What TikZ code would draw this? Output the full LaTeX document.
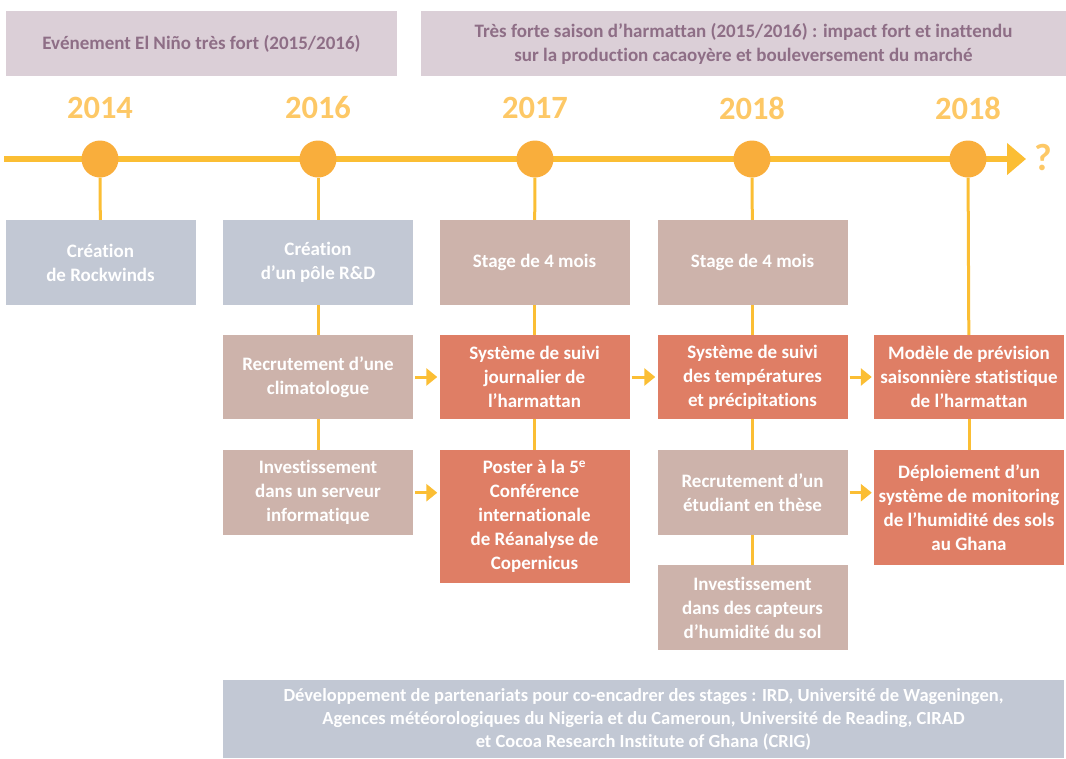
\documentclass[tikz,border=0pt]{standalone}
\usetikzlibrary{arrows.meta, positioning}
\usepackage{fontspec}
\setmainfont{Carlito}[Ligatures=CommonOff]
\usepackage{xcolor}

\definecolor{bandfill}{HTML}{DBCFD7}
\definecolor{bandtext}{HTML}{8E6E86}
\definecolor{yeartext}{HTML}{FDC866}
\definecolor{dotfill}{HTML}{F9AE3C}
\definecolor{linecol}{HTML}{FBBE34}
\definecolor{greyblue}{HTML}{C2C8D4}
\definecolor{taupe}{HTML}{CDB3AB}
\definecolor{salmon}{HTML}{DF7E65}

\tikzset{
  band/.style={fill=bandfill, text=bandtext, font=\bfseries\fontsize{19}{24}\selectfont, align=center, inner sep=0pt},
  year/.style={text=yeartext, font=\bfseries\fontsize{32.5}{32.5}\selectfont},
  dot/.style={circle, fill=dotfill, minimum size=37pt, inner sep=0pt},
  card/.style={minimum width=190pt, minimum height=85pt, inner sep=0pt, align=center, text=white, font=\bfseries\fontsize{19}{24}\selectfont},
  blue card/.style={card, fill=greyblue},
  taupe card/.style={card, fill=taupe},
  red card/.style={card, fill=salmon},
  link/.style={draw=linecol, line width=3pt},
  flow/.style={draw=linecol, line width=3pt, -{Triangle[length=11pt, width=17pt]}, shorten <=2pt, shorten >=2pt}
}

\begin{document}
\begin{tikzpicture}[x=1pt, y=-1pt]
  \useasboundingbox (0,0) rectangle (1066,758);

  % Top banners
  \node[band, minimum width=391pt, minimum height=65pt] (nino) at (201.5,43.5) {Evénement El Niño très fort (2015/2016)};
  \node[band, minimum width=645pt, minimum height=65pt] (harm) at (743.5,43.5) {Très forte saison d’harmattan (2015/2016) : impact fort et inattendu\\sur la production cacaoyère et bouleversement du marché};

  % Timeline
  \coordinate (tlstart) at (4,159);
  \coordinate (tlend) at (1026,159);
  \draw[draw=linecol, line width=6pt, -{Triangle[length=19pt, width=31pt]}] (tlstart) -- (tlend);
  \node[year, anchor=west, font=\bfseries\fontsize{38}{38}\selectfont] (qm) at (1031,158) {?};

  % Years and dots
  \foreach \x/\yr/\name in {100/2014/d1, 318/2016/d2, 535/2017/d3, 752/2018/d4, 968/2018/d5}{
    \node[year] (y\name) at (\x,108) {\yr};
    \node[dot] (\name) at (\x,159) {};
  }

  % First row
  \node[blue card] (rock) at (100.5,262.5) {Création\\de Rockwinds};
  \node[blue card] (pole) at (318,262.5) {Création\\d’un pôle R\&D};
  \node[taupe card] (stage1) at (534.5,262.5) {Stage de 4 mois};
  \node[taupe card] (stage2) at (752.5,262.5) {Stage de 4 mois};

  % Second row
  \node[taupe card, minimum height=84pt] (clim) at (318,377) {Recrutement d’une\\climatologue};
  \node[red card, minimum height=84pt] (suivi1) at (534.5,377) {Système de suivi\\journalier de\\l’harmattan};
  \node[red card, minimum height=84pt] (suivi2) at (752.5,377) {Système de suivi\\des températures\\et précipitations};
  \node[red card, minimum height=84pt] (model) at (969,377) {Modèle de prévision\\saisonnière statistique\\de l’harmattan};

  % Third row
  \node[taupe card, anchor=north] (serv) at (318,450) {Investissement\\dans un serveur\\informatique};
  \node[red card, anchor=north, minimum height=133pt] (poster) at (534.5,450) {Poster à la 5\textsuperscript{e}\\Conférence\\internationale\\de Réanalyse de\\Copernicus};
  \node[taupe card, anchor=north] (these) at (752.5,450) {Recrutement d’un\\étudiant en thèse};
  \node[red card, anchor=north, minimum height=115pt] (deploy) at (969,450) {Déploiement d’un\\système de monitoring\\de l’humidité des sols\\au Ghana};

  % Fourth row
  \node[taupe card, anchor=north] (capt) at (752.5,565) {Investissement\\dans des capteurs\\d’humidité du sol};

  % Bottom banner
  \node[blue card, minimum width=841pt, minimum height=78pt, font=\bfseries\fontsize{18.5}{23}\selectfont] (parten) at (643.5,719) {Développement de partenariats pour co-encadrer des stages : IRD, Université de Wageningen,\\Agences météorologiques du Nigeria et du Cameroun, Université de Reading, CIRAD\\et Cocoa Research Institute of Ghana (CRIG)};

  % Vertical links
  \draw[link] (d1) -- (rock);
  \draw[link] (d2) -- (pole);
  \draw[link] (pole) -- (clim);
  \draw[link] (clim) -- (serv);
  \draw[link] (d3) -- (stage1);
  \draw[link] (stage1) -- (suivi1);
  \draw[link] (suivi1) -- (poster);
  \draw[link] (d4) -- (stage2);
  \draw[link] (stage2) -- (suivi2);
  \draw[link] (suivi2) -- (these);
  \draw[link] (these) -- (capt);
  \draw[link] (d5) -- (model);
  \draw[link] (model) -- (deploy);

  % Horizontal arrows
  \draw[flow] (clim) -- (suivi1);
  \draw[flow] (suivi1) -- (suivi2);
  \draw[flow] (suivi2) -- (model);
  \draw[flow] (serv) -- (serv -| poster.west);
  \draw[flow] (these) -- (these -| deploy.west);
\end{tikzpicture}
\end{document}
